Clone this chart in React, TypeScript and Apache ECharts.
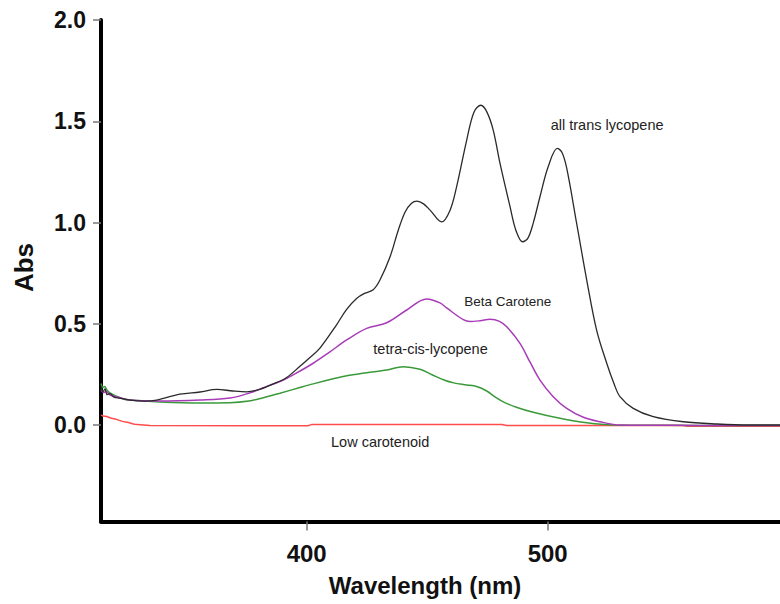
import { useEffect, useRef } from "react";
import * as echarts from "echarts";

const xTicks = [400, 500];
const yTicks = [0, 0.5, 1.0, 1.5, 2.0];

// all trans lycopene (black)
const transWl = [314.7, 315.5, 316.3, 317.2, 318.4, 320.0, 322.5, 326.7, 332.9, 337.7, 347.4, 355.7, 362.7, 369.4, 375.1, 381.0, 386.0, 391.7, 397.2, 401.0, 405.5, 412.4, 416.5, 420.7, 424.0, 427.6, 430.4, 434.6, 438.0, 440.8, 443.5, 445.8, 448.5, 451.2, 456.0, 459.5, 462.2, 466.4, 469.4, 472.3, 474.8, 477.4, 480.2, 484.4, 486.8, 489.6, 491.8, 494.0, 496.8, 500.2, 504.0, 505.9, 507.9, 512.0, 516.2, 520.3, 524.5, 527.5, 530.0, 535.5, 543.8, 556.3, 570.1, 583.9, 596.4];
const transAbs = [0.19, 0.165, 0.178, 0.15, 0.155, 0.138, 0.133, 0.123, 0.118, 0.123, 0.152, 0.163, 0.176, 0.168, 0.164, 0.178, 0.202, 0.235, 0.29, 0.33, 0.38, 0.495, 0.57, 0.625, 0.65, 0.668, 0.716, 0.831, 0.962, 1.051, 1.095, 1.106, 1.092, 1.061, 1.003, 1.061, 1.176, 1.407, 1.545, 1.579, 1.545, 1.456, 1.293, 1.077, 0.962, 0.905, 0.923, 0.997, 1.127, 1.275, 1.366, 1.347, 1.268, 0.997, 0.716, 0.469, 0.305, 0.205, 0.14, 0.082, 0.041, 0.016, 0.005, 0.0, 0.0];

// Beta Carotene (purple)
const betaWl = [314.7, 315.6, 316.8, 318.4, 321, 326.7, 339.1, 355.7, 368.2, 376.5, 384.8, 388.9, 395.5, 402.7, 409.5, 416.6, 424.9, 433.2, 441.5, 449.8, 455.3, 458.1, 465.0, 467.8, 472, 476.1, 480.0, 483.0, 488.5, 492.7, 496.8, 502.3, 507.9, 514.8, 521.7, 530.0, 563.2, 596.4];
const betaAbs = [0.175, 0.16, 0.165, 0.148, 0.14, 0.123, 0.118, 0.123, 0.133, 0.159, 0.197, 0.214, 0.255, 0.305, 0.36, 0.42, 0.477, 0.505, 0.568, 0.622, 0.603, 0.578, 0.52, 0.511, 0.515, 0.522, 0.512, 0.485, 0.403, 0.31, 0.222, 0.14, 0.082, 0.038, 0.016, 0.0, -0.002, -0.003];

// tetra-cis-lycopene (green)
const cisWl = [314.7, 315.4, 316.2, 317.0, 318.2, 320.5, 323.5, 326.7, 339.1, 355.7, 368.0, 376.0, 382.0, 388.9, 397.2, 402.7, 411.0, 416.6, 424.9, 433.2, 440.1, 447.0, 452.0, 457.0, 461.0, 466.4, 470.5, 474.7, 478.0, 482.0, 487.0, 494.0, 505.1, 516.2, 527.2, 563.2, 596.4];
const cisAbs = [0.205, 0.185, 0.19, 0.175, 0.16, 0.145, 0.13, 0.123, 0.114, 0.109, 0.11, 0.118, 0.135, 0.157, 0.185, 0.203, 0.228, 0.243, 0.258, 0.272, 0.288, 0.275, 0.248, 0.222, 0.208, 0.198, 0.19, 0.168, 0.14, 0.112, 0.088, 0.063, 0.033, 0.011, 0.0, -0.002, -0.002];

// Low carotenoid (red)
const lowWl = [314.7, 315.5, 317, 319, 321, 323.5, 326, 328.5, 335, 400.5, 402, 481, 483, 556, 558, 596.4];
const lowAbs = [0.05, 0.044, 0.042, 0.033, 0.028, 0.018, 0.012, 0.004, -0.003, -0.004, 0.002, 0.002, -0.002, -0.003, -0.006, -0.006];

const zip = (xs: number[], ys: number[]) => xs.map((x, i) => [x, ys[i]]);

const FONT = '"Liberation Sans", Arial, sans-serif';

export default function App() {
  const ref = useRef<HTMLDivElement>(null);
  useEffect(() => {
    const chart = echarts.init(ref.current!, null, { renderer: "svg" });
    const lineSeries = (name: string, data: number[][], color: string, width: number, smooth: number | boolean) => ({
      name,
      type: "line",
      data,
      showSymbol: false,
      smooth,
      lineStyle: { color, width },
      itemStyle: { color },
    });
    chart.setOption({
      animation: false,
      backgroundColor: "#ffffff",
      grid: { left: 101, right: 0, top: 20, bottom: 82.5, containLabel: false, outerBoundsMode: "none" },
      xAxis: {
        type: "value",
        min: 314.65,
        max: 596.4,
        axisLine: { onZero: false, lineStyle: { color: "#000", width: 4 } },
        axisTick: { show: true, length: 9, customValues: xTicks, lineStyle: { color: "#777", width: 1.5 } },
        axisLabel: {
          customValues: xTicks,
          margin: 19.5,
          fontSize: 24,
          fontWeight: "bold",
          color: "#111",
          fontFamily: FONT,
        },
        splitLine: { show: false },
      },
      yAxis: {
        type: "value",
        min: -0.4765,
        max: 2.0,
        axisLine: { onZero: false, lineStyle: { color: "#000", width: 4 } },
        axisTick: { show: true, length: 8, customValues: yTicks, lineStyle: { color: "#777", width: 1.5 } },
        axisLabel: {
          customValues: yTicks,
          margin: 15,
          fontSize: 23,
          fontWeight: "bold",
          color: "#111",
          fontFamily: FONT,
          formatter: (v: number) => v.toFixed(1),
        },
        splitLine: { show: false },
      },
      series: [
        lineSeries("Low carotenoid", zip(lowWl, lowAbs), "#ff4d4d", 1.5, false),
        lineSeries("tetra-cis-lycopene", zip(cisWl, cisAbs), "#3a9a3a", 1.5, 0.35),
        lineSeries("Beta Carotene", zip(betaWl, betaAbs), "#a83cb8", 1.5, 0.35),
        lineSeries("all trans lycopene", zip(transWl, transAbs), "#2a2a2a", 1.3, 0.35),
      ],
      graphic: [
        { type: "text", x: 550.7, y: 124.5, style: { text: "all trans lycopene", fill: "#222", font: `14.5px ${FONT}`, align: "left", verticalAlign: "middle" } },
        { type: "text", x: 464.3, y: 301.5, style: { text: "Beta Carotene", fill: "#222", font: `13.5px ${FONT}`, align: "left", verticalAlign: "middle" } },
        { type: "text", x: 373.3, y: 348.5, style: { text: "tetra-cis-lycopene", fill: "#222", font: `14.5px ${FONT}`, align: "left", verticalAlign: "middle" } },
        { type: "text", x: 331, y: 441.5, style: { text: "Low carotenoid", fill: "#222", font: `14.5px ${FONT}`, align: "left", verticalAlign: "middle" } },
        { type: "text", x: 24.3, y: 267.5, rotation: Math.PI / 2, style: { text: "Abs", fill: "#111", font: `bold 26px ${FONT}`, align: "center", verticalAlign: "middle" } },
        { type: "text", x: 425, y: 585.5, style: { text: "Wavelength (nm)", fill: "#111", font: `bold 24px ${FONT}`, align: "center", verticalAlign: "middle" } },
      ],
    });
    return () => chart.dispose();
  }, []);
  return (
    <div
      ref={ref}
      style={{ position: "fixed", left: 0, top: 0, width: 780, height: 604, background: "#fff" }}
    />
  );
}
